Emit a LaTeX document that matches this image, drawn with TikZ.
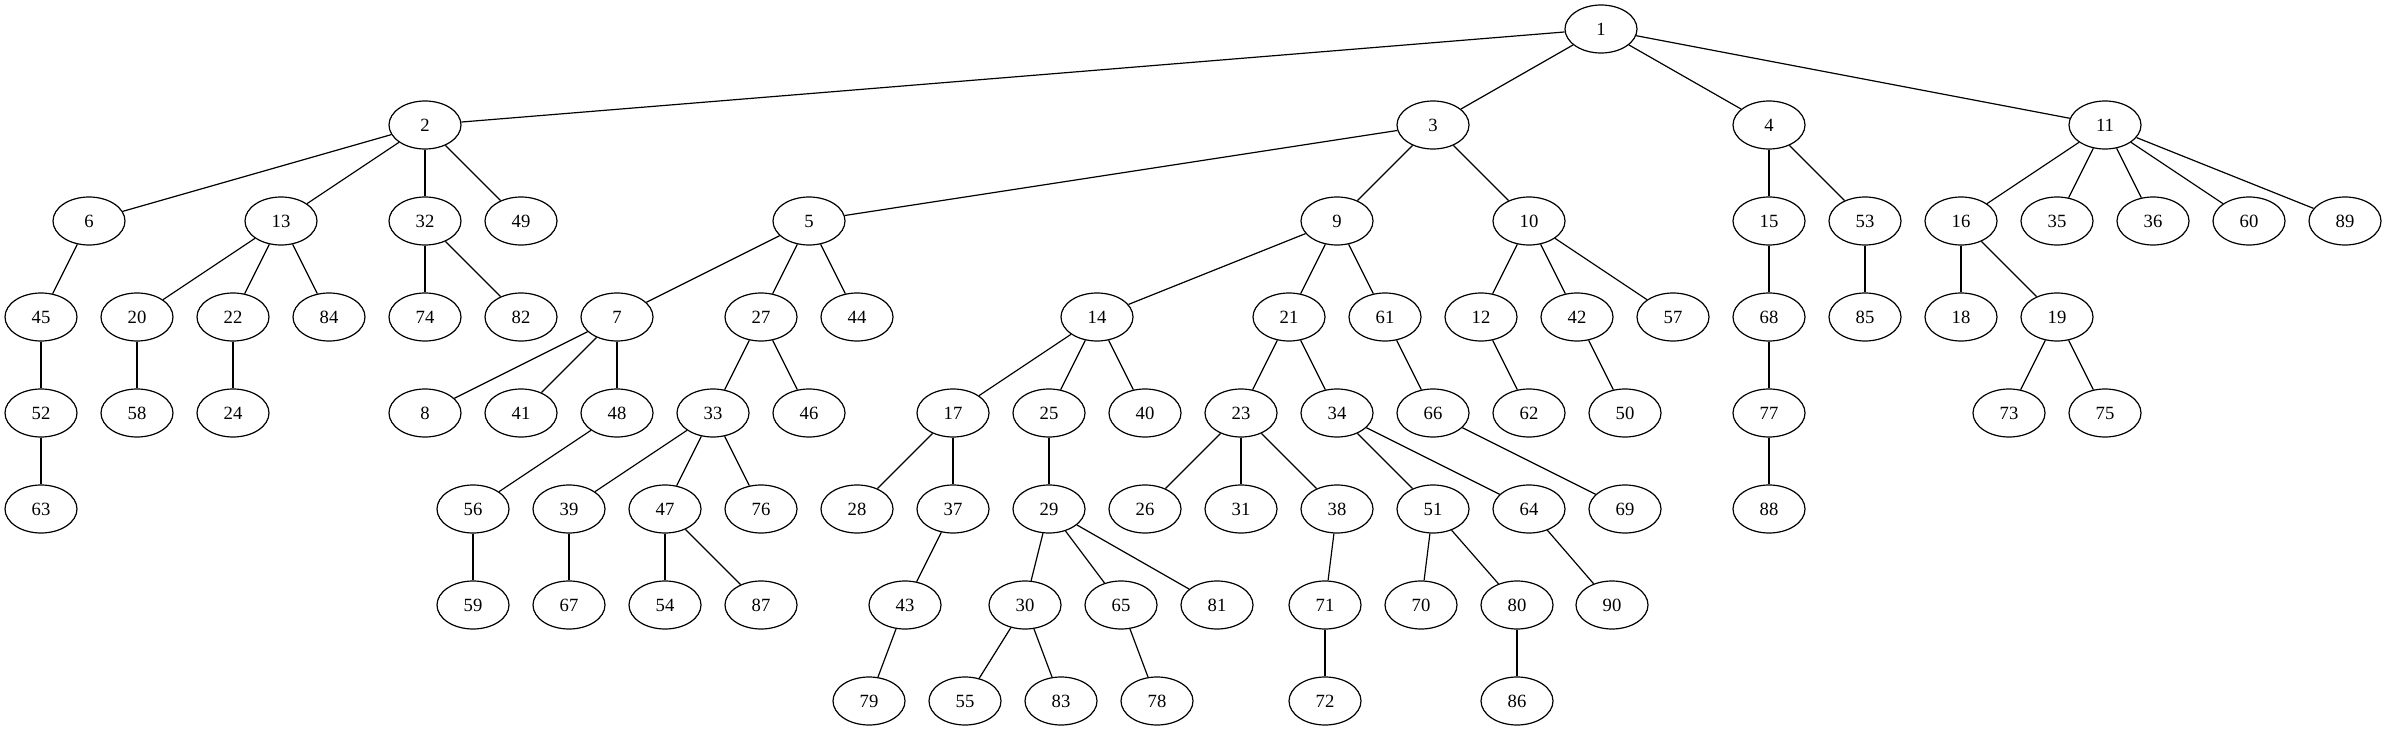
\documentclass[tikz,border=0pt]{standalone}
\usepackage{fontspec}
\setmainfont{Liberation Serif}
\usetikzlibrary{shapes.geometric}
\begin{document}
\begin{tikzpicture}[x=0.75pt,y=-0.75pt,
  vtx/.style={draw,ellipse,minimum width=54pt,minimum height=36pt,inner sep=0pt,line width=0.9pt,font=\fontsize{14}{16}\selectfont},
  edge/.style={line width=0.9pt}]
\useasboundingbox (0,0) rectangle (2387,731);
\foreach \n/\x/\r in {
 1/1601/0,
 2/425/1, 3/1433/1, 4/1769/1, 11/2105/1,
 6/89/2, 13/281/2, 32/425/2, 49/521/2, 5/809/2, 9/1337/2, 10/1529/2, 15/1769/2, 53/1865/2, 16/1961/2, 35/2057/2, 36/2153/2, 60/2249/2, 89/2345/2,
 45/41/3, 20/137/3, 22/233/3, 84/329/3, 74/425/3, 82/521/3, 7/617/3, 27/761/3, 44/857/3, 14/1097/3, 21/1289/3, 61/1385/3, 12/1481/3, 42/1577/3, 57/1673/3, 68/1769/3, 85/1865/3, 18/1961/3, 19/2057/3,
 52/41/4, 58/137/4, 24/233/4, 8/425/4, 41/521/4, 48/617/4, 33/713/4, 46/809/4, 17/953/4, 25/1049/4, 40/1145/4, 23/1241/4, 34/1337/4, 66/1433/4, 62/1529/4, 50/1625/4, 77/1769/4, 73/2009/4, 75/2105/4,
 63/41/5, 56/473/5, 39/569/5, 47/665/5, 76/761/5, 28/857/5, 37/953/5, 29/1049/5, 26/1145/5, 31/1241/5, 38/1337/5, 51/1433/5, 64/1529/5, 69/1625/5, 88/1769/5,
 59/473/6, 67/569/6, 54/665/6, 87/761/6, 43/905/6, 30/1025/6, 65/1121/6, 81/1217/6, 71/1325/6, 70/1421/6, 80/1517/6, 90/1612/6,
 79/869/7, 55/965/7, 83/1061/7, 78/1157/7, 72/1325/7, 86/1517/7}
 { \node[vtx] (n\n) at (\x,{29+96*\r}) {\n}; }
\foreach \a/\b in {
 1/2,1/3,1/4,1/11,
 2/6,2/13,2/32,2/49,
 3/5,3/9,3/10,
 4/15,4/53,
 11/16,11/35,11/36,11/60,11/89,
 6/45,13/20,13/22,13/84,32/74,32/82,
 5/7,5/27,5/44,
 9/14,9/21,9/61,
 10/12,10/42,10/57,
 15/68,53/85,16/18,16/19,
 45/52,20/58,22/24,
 7/8,7/41,7/48,
 27/33,27/46,
 14/17,14/25,14/40,
 21/23,21/34,
 61/66,
 12/62,42/50,
 68/77,
 19/73,19/75,
 52/63,
 48/56,
 33/39,33/47,33/76,
 17/28,17/37,
 25/29,
 23/26,23/31,23/38,
 34/51,34/64,
 66/69,
 77/88,
 56/59,39/67,47/54,47/87,
 37/43,
 29/30,29/65,29/81,
 38/71,
 51/70,51/80,
 64/90,
 43/79,30/55,30/83,65/78,71/72,80/86}
 { \draw[edge] (n\a) -- (n\b); }
\end{tikzpicture}
\end{document}
